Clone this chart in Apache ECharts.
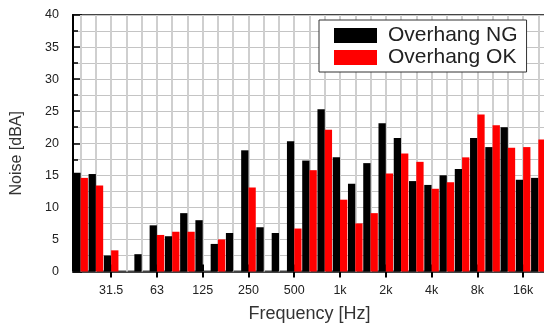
<!DOCTYPE html>
<html>
<head>
<meta charset="utf-8">
<script src="https://cdn.jsdelivr.net/npm/echarts@6/dist/echarts.min.js"></script>
<style>html,body{margin:0;padding:0;background:#fff}#c{width:544px;height:326px}</style>
</head>
<body>
<div id="c"></div>
<script>
const categories = ['20','25','31.5','40','50','63','80','100','125','160','200','250','315','400','500','630','800','1k','1.25k','1.6k','2k','2.5k','3.15k','4k','5k','6.3k','8k','10k','12.5k','16k','20k'];
const overhangNG = [15.4, 15.2, 2.5, null, 2.7, 7.2, 5.5, 9.1, 8.0, 4.3, 6.0, 18.9, 6.9, 6.0, 20.3, 17.3, 25.3, 17.8, 13.7, 16.9, 23.1, 20.8, 14.1, 13.5, 15.0, 16.0, 20.8, 19.4, 22.5, 14.3, 14.6];
const overhangOK = [14.6, 13.4, 3.3, null, null, 5.7, 6.2, 6.2, null, 5.0, null, 13.1, null, null, 6.7, 15.8, 22.1, 11.2, 7.5, 9.1, 15.3, 18.4, 17.1, 12.9, 13.9, 17.8, 24.5, 22.8, 19.3, 19.4, 20.6];
const yTicks = [0, 5, 10, 15, 20, 25, 30, 35, 40];

const chart = echarts.init(document.getElementById('c'), null, {renderer: 'canvas'});
const FONT = "'Liberation Sans', Arial, sans-serif";
const showLabel = (i) => i % 3 === 2;
const PLOT_H = 326 - 15 - 54.5;

chart.setOption({
  backgroundColor: '#ffffff',
  animation: false,
  grid: {
    left: 73, right: -2, top: 15, bottom: 54.5,
    containLabel: false, outerBoundsMode: 'none',
    show: true, borderColor: '#444', borderWidth: 2, backgroundColor: '#ffffff'
  },
  legend: {
    orient: 'vertical',
    left: 319, top: 20,
    padding: [5, 9, 4, 15],
    itemWidth: 43, itemHeight: 15, itemGap: 1,
    icon: 'rect',
    backgroundColor: '#ffffff',
    borderColor: '#333', borderWidth: 1, borderRadius: 0,
    textStyle: {fontFamily: FONT, fontSize: 21, color: '#222', lineHeight: 20, padding: [0, 0, 0, 6]},
    data: ['Overhang NG', 'Overhang OK']
  },
  xAxis: [{
    type: 'category',
    data: categories,
    position: 'bottom',
    name: 'Frequency [Hz]',
    nameLocation: 'middle',
    nameGap: 34,
    nameTextStyle: {fontFamily: FONT, fontSize: 18, color: '#333'},
    axisLine: {show: true, lineStyle: {color: '#444', width: 2}},
    axisTick: {show: true, alignWithLabel: true, inside: false, length: 6, interval: (i) => showLabel(i), lineStyle: {color: '#000', width: 2}},
    axisLabel: {interval: (i) => showLabel(i), margin: 13, fontFamily: FONT, fontSize: 12.5, color: '#222'},
    splitLine: {show: false}
  }, {
    type: 'category',
    data: categories,
    position: 'bottom',
    axisLine: {show: false},
    axisTick: {show: true, alignWithLabel: true, inside: true, length: PLOT_H, interval: 0, lineStyle: {color: '#cfcfcf', width: 2}},
    axisLabel: {show: false},
    splitLine: {show: false}
  }, {
    type: 'category',
    data: categories,
    position: 'bottom',
    axisLine: {show: false},
    axisTick: {show: true, alignWithLabel: true, inside: true, length: 7, interval: (i) => showLabel(i), lineStyle: {color: '#000', width: 2}},
    axisLabel: {show: false},
    splitLine: {show: false}
  }],
  yAxis: {
    type: 'value',
    min: yTicks[0], max: yTicks[yTicks.length - 1], interval: 5,
    name: 'Noise [dBA]',
    nameLocation: 'middle',
    nameGap: 48,
    nameRotate: 90,
    nameTextStyle: {fontFamily: FONT, fontSize: 16, color: '#333', padding: [0, 20, 0, 0]},
    axisLine: {show: true, lineStyle: {color: '#000', width: 2}},
    axisTick: {show: true, inside: true, length: 9, lineStyle: {color: '#000', width: 1.5}},
    minorTick: {show: true, splitNumber: 2, length: 5, lineStyle: {color: '#000', width: 1.5}},
    axisLabel: {margin: 14, fontFamily: FONT, fontSize: 12.5, color: '#222'},
    splitLine: {show: true, lineStyle: {color: '#c4c4c4', width: 1}},
    minorSplitLine: {show: true, lineStyle: {color: '#c4c4c4', width: 1}}
  },
  series: [{
    name: 'Overhang NG', type: 'bar', data: overhangNG,
    barWidth: 7.3, barGap: '0%',
    itemStyle: {color: '#000000'}
  }, {
    name: 'Overhang OK', type: 'bar', data: overhangOK,
    barWidth: 7.3, barGap: '0%',
    itemStyle: {color: '#ff0000'}
  }]
});
</script>
</body>
</html>
